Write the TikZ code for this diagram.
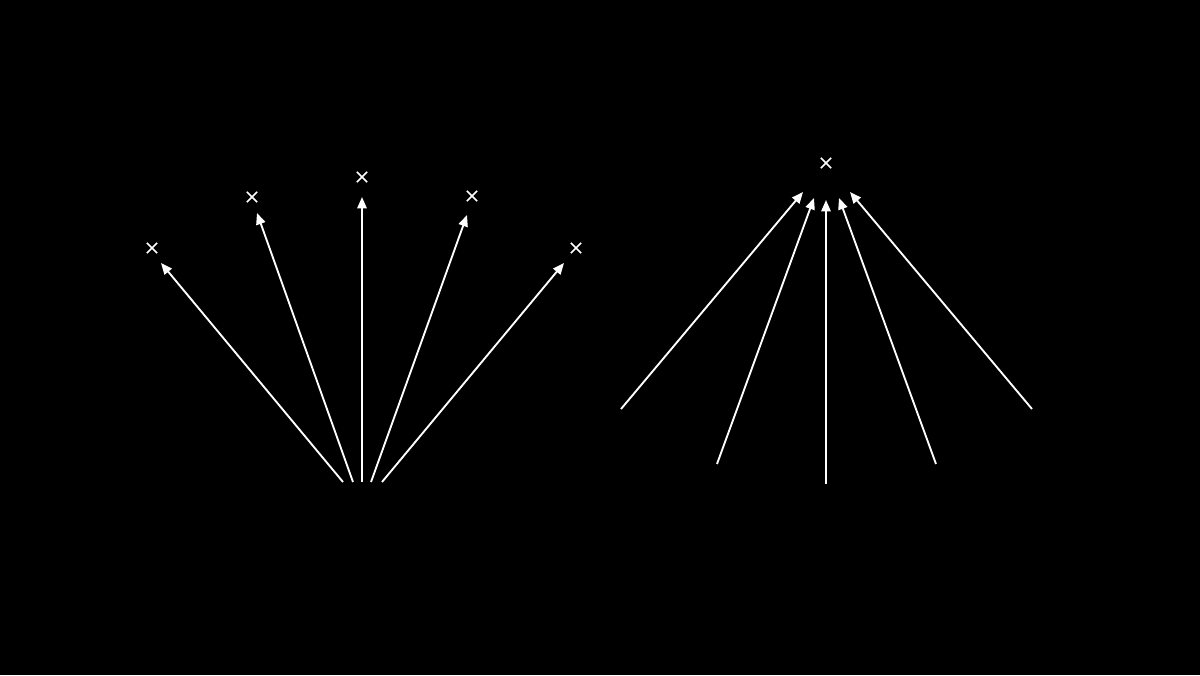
\documentclass[tikz,border=0pt]{standalone}
\usetikzlibrary{arrows.meta,shapes.misc}
\begin{document}
\begin{tikzpicture}[x=0.75pt,y=-0.75pt,
  vec/.style={draw=white,line width=1.4pt,-{Triangle[length=8.5pt,width=7pt]}},
  xmark/.style={cross out,draw=white,line width=1.2pt,minimum size=6.5pt,inner sep=0pt}]
\fill[black] (0,0) rectangle (1200,675);
\useasboundingbox (0,0) rectangle (1200,675);
% left fan: targets
\node[xmark] (x1) at (152,248) {};
\node[xmark] (x2) at (252,197) {};
\node[xmark] (x3) at (362,177) {};
\node[xmark] (x4) at (472,196) {};
\node[xmark] (x5) at (576,248) {};
\coordinate (s1) at (343,482);
\coordinate (s2) at (353,482);
\coordinate (s3) at (362,482);
\coordinate (s4) at (371,482);
\coordinate (s5) at (382,482);
\coordinate (t1) at (161,263);
\coordinate (t2) at (257,213);
\coordinate (t3) at (362,197);
\coordinate (t4) at (467,215);
\coordinate (t5) at (564,263);
\foreach \i in {1,...,5} \draw[vec] (s\i) -- (t\i);
% right fan
\node[xmark] (y0) at (826,163) {};
\coordinate (r1) at (621,409);
\coordinate (r2) at (717,464);
\coordinate (r3) at (826,484);
\coordinate (r4) at (936,464);
\coordinate (r5) at (1032,409);
\coordinate (u1) at (803,192);
\coordinate (u2) at (814,198);
\coordinate (u3) at (826,200);
\coordinate (u4) at (839,198);
\coordinate (u5) at (850,192);
\foreach \i in {1,...,5} \draw[vec] (r\i) -- (u\i);
\end{tikzpicture}
\end{document}
